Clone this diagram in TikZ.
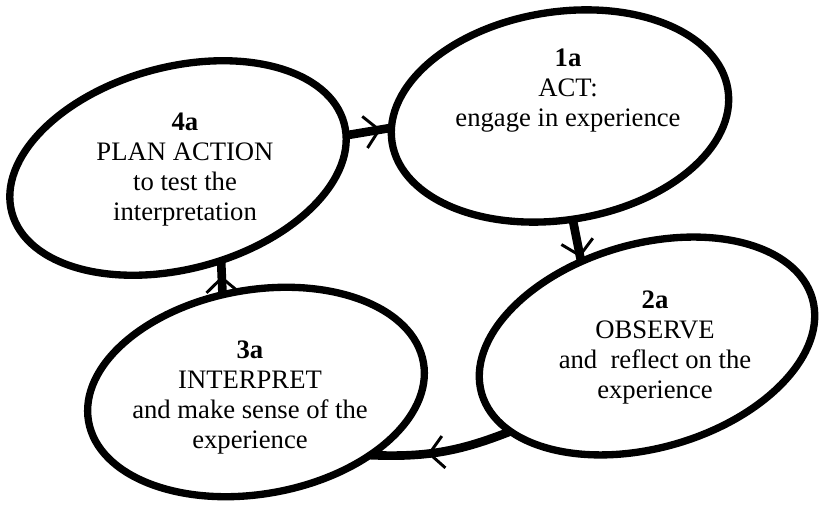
\documentclass[tikz,border=0pt]{standalone}
\usepackage{fontspec}
\setmainfont{Liberation Serif}
\usetikzlibrary{shapes.geometric,arrows.meta,decorations.markings}

\begin{document}
\begin{tikzpicture}[x=0.75pt,y=-0.75pt,
  stage/.style={draw=black, line width=5.5pt, ellipse, outer sep=0pt, inner sep=0pt},
  caption/.style={align=center, font=\fontsize{20}{22.5}\selectfont, inner sep=0pt},
  link/.style={line width=6.5pt},
  barb/.style={postaction={decorate, decoration={markings,
      mark=at position #1 with {\arrow{Straight Barb[length=10.8pt,width=24pt,line width=2.2pt 0]}}}}}
]
\path[use as bounding box] (0,0) rectangle (819,505);

% the four stages of the cycle
\node[stage, minimum width=258pt, minimum height=151.5pt, rotate=15] (e4) at (178,168) {};
\node[stage, minimum width=255pt, minimum height=156pt, rotate=9] (e1) at (560,116) {};
\node[stage, minimum width=258pt, minimum height=153pt, rotate=16] (e2) at (647,346) {};
\node[stage, minimum width=255pt, minimum height=153pt, rotate=10] (e3) at (256,392) {};

% stage texts
\node[caption] (t4) at (185,170) {\textbf{4a}\\PLAN ACTION\\to test the\\interpretation};
\node[caption] (t1) at (568,91) {\textbf{1a}\\ACT:\\engage in experience};
\node[caption] (t2) at (655,348) {\textbf{2a}\\OBSERVE\\and\ \ reflect on the\\experience};
\node[caption] (t3) at (250,398) {\textbf{3a}\\INTERPRET\\and make sense of the\\experience};

% links between the stages
\draw[link, barb=0.77] (e4.356) -- (e1.175);
\draw[link, barb=0.9] (e1.268) -- (e2.112);
\draw[link, barb=0.6] (e2.196) to[bend left=12] (e3.321);
\draw[link, barb=0.55] (e3.99) -- (e4.280);
\end{tikzpicture}
\end{document}
